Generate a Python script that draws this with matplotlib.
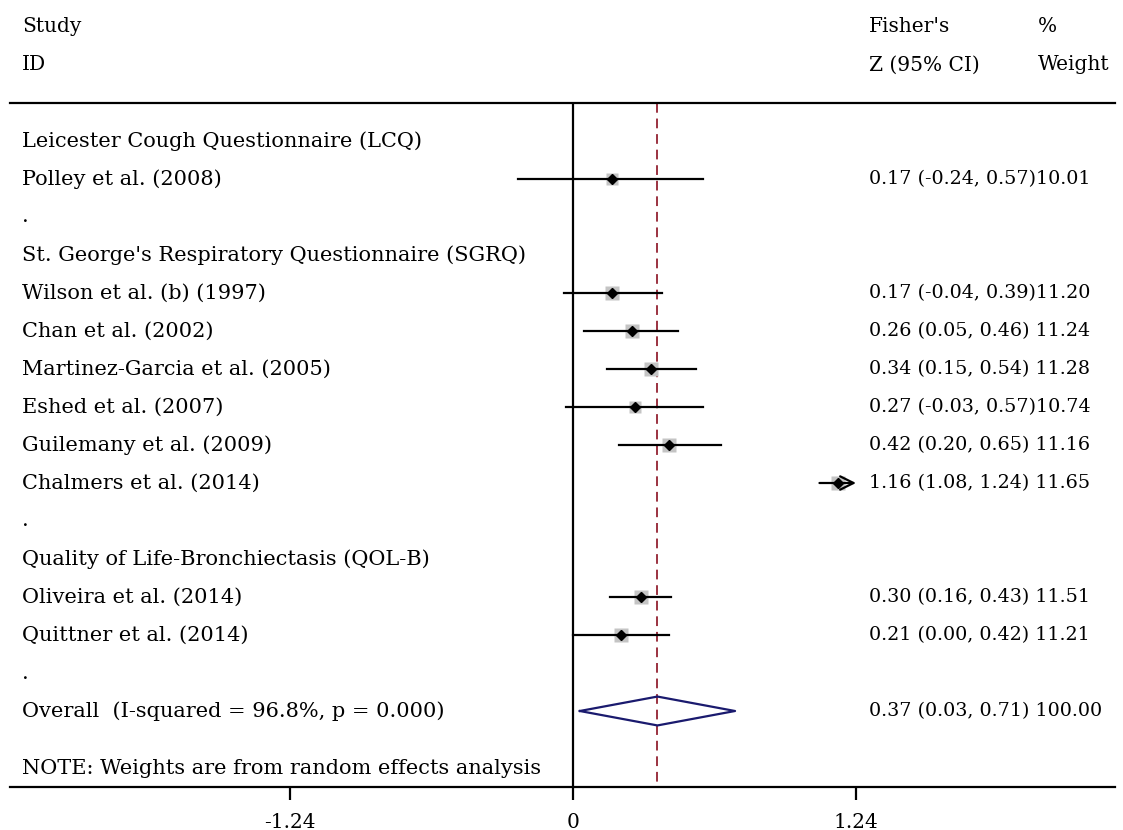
import numpy as np
import matplotlib.pyplot as plt

# Study data (Fisher's Z with 95% CI and % weight)
groups = ["Leicester Cough Questionnaire (LCQ)",
          "St. George's Respiratory Questionnaire (SGRQ)",
          "Quality of Life-Bronchiectasis (QOL-B)"]
group_studies = [
    ["Polley et al. (2008)"],
    ["Wilson et al. (b) (1997)", "Chan et al. (2002)", "Martinez-Garcia et al. (2005)",
     "Eshed et al. (2007)", "Guilemany et al. (2009)", "Chalmers et al. (2014)"],
    ["Oliveira et al. (2014)", "Quittner et al. (2014)"],
]
est = [[0.17], [0.17, 0.26, 0.34, 0.27, 0.42, 1.16], [0.30, 0.21]]
lo = [[-0.24], [-0.04, 0.05, 0.15, -0.03, 0.20, 1.08], [0.16, 0.00]]
hi = [[0.57], [0.39, 0.46, 0.54, 0.57, 0.65, 1.24], [0.43, 0.42]]
weight = [[10.01], [11.20, 11.24, 11.28, 10.74, 11.16, 11.65], [11.51, 11.21]]

overall_est, overall_lo, overall_hi = 0.37, 0.03, 0.71
overall_label = "Overall  (I-squared = 96.8%, p = 0.000)"
note = "NOTE: Weights are from random effects analysis"
xticks = [-1.24, 0, 1.24]
xmax_plot = 1.24


def main():
    plt.rcParams['font.family'] = ['DejaVu Serif']
    fs = 15        # study labels
    fs_ci = 13.8   # estimate column
    fs_h = 14.5    # headers / ticks
    fig = plt.figure(figsize=(11.23, 8.3), dpi=100)
    # axes area: top rule at row 0, bottom axis at row 18
    ax = fig.add_axes([10 / 1123, 43 / 830, 1105 / 1123, 684 / 830])
    ax.set_xlim(-2.467, 2.375)
    ax.set_ylim(18, 0)
    for s in ['left', 'right']:
        ax.spines[s].set_visible(False)
    for s in ['top', 'bottom']:
        ax.spines[s].set_linewidth(1.6)
    ax.set_yticks([])
    ax.set_xticks(xticks)
    ax.set_xticklabels([f"{t:g}" if t == 0 else f"{t:.2f}" for t in xticks], fontsize=fs_h)
    ax.tick_params(axis='x', direction='out', length=9.5, width=1.6, pad=9)

    xl = -2.415   # study label column
    xc = 1.295    # CI column
    xw = 2.035    # weight column

    # headers
    ax.text(xl, -2, "Study", fontsize=fs_h, va='center', clip_on=False)
    ax.text(xl, -1, "ID", fontsize=fs_h, va='center', clip_on=False)
    ax.text(xc, -2, "Fisher's", fontsize=fs_h, va='center', clip_on=False)
    ax.text(xc, -1, "Z (95% CI)", fontsize=fs_h, va='center', clip_on=False)
    ax.text(xw, -2, "%", fontsize=fs_h, va='center', clip_on=False)
    ax.text(xw, -1, "Weight", fontsize=fs_h, va='center', clip_on=False)

    # reference lines
    ax.plot([0, 0], [0, 18], color='black', lw=1.6, zorder=1)
    ax.plot([overall_est, overall_est], [0, 18], color='#9b3240', lw=1.4,
            ls=(0, (5, 3)), zorder=1)

    row = 1
    for g, name in enumerate(groups):
        ax.text(xl, row, name, fontsize=fs, va='center')
        row += 1
        for i, study in enumerate(group_studies[g]):
            e, l, h, w = est[g][i], lo[g][i], hi[g][i], weight[g][i]
            ax.text(xl, row, study, fontsize=fs, va='center')
            ms = 9.5 * np.sqrt(w / 11.2)
            ax.plot(e, row, marker='s', ms=ms, color='#c4c4c4', mec='none', zorder=2)
            if h >= xmax_plot:
                ax.annotate("", xy=(h, row), xytext=(l, row),
                            arrowprops=dict(arrowstyle='->', lw=1.6, color='black',
                                            mutation_scale=24, shrinkA=0, shrinkB=0),
                            zorder=3)
            else:
                ax.plot([l, h], [row, row], color='black', lw=1.6, zorder=3)
            ax.plot(e, row, marker='D', ms=5.5, color='black', zorder=4)
            ci = f"{e:.2f} ({l:.2f}, {h:.2f})"
            sep = "" if l < 0 else " "
            ax.text(xc, row, ci + sep + f"{w:.2f}", fontsize=fs_ci, va='center')
            row += 1
        ax.text(xl, row, ".", fontsize=fs, va='center')
        row += 1

    # overall diamond
    dx = [overall_lo, overall_est, overall_hi, overall_est, overall_lo]
    dy = [row, row - 0.38, row, row + 0.38, row]
    ax.plot(dx, dy, color='#1a1a6e', lw=1.6, zorder=4)
    ax.text(xl, row, overall_label, fontsize=fs, va='center')
    ax.text(xc, row, f"{overall_est:.2f} ({overall_lo:.2f}, {overall_hi:.2f}) 100.00",
            fontsize=fs_ci, va='center')
    ax.text(xl, row + 1.5, note, fontsize=fs, va='center')

    fig.savefig('out.png', dpi=100)


if __name__ == '__main__':
    main()
